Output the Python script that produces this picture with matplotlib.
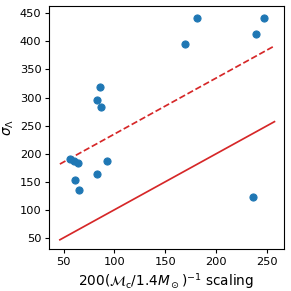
import numpy as np
import matplotlib
matplotlib.use("Agg")
import matplotlib.pyplot as plt

# values
x_scaling = [181.2, 246.5, 238.9, 169.2, 86.0, 82.4, 86.3, 55.9, 60.1, 63.8,
             92.8, 82.7, 61.4, 65.3, 235.7]
sigma_lambda = [442.2, 442.0, 413.6, 394.7, 318.6, 295.5, 283.0, 190.8, 186.7,
                182.6, 186.2, 163.5, 152.9, 134.5, 122.5]

line_x = [46.4, 257.0]
offset = 135.0

fig, ax = plt.subplots(figsize=(4, 4), dpi=72.75)

lx = np.array(line_x)
ax.plot(lx, lx, color="tab:red", lw=1.7)
ax.plot(lx, lx + offset, color="tab:red", lw=1.7, ls="--")
ax.scatter(x_scaling, sigma_lambda, s=50, color="tab:blue", zorder=3)

ax.set_xlim(35.9, 266.1)
ax.set_ylim(29.3, 463)
ax.set_xticks([50, 100, 150, 200, 250])
ax.set_yticks([50, 100, 150, 200, 250, 300, 350, 400, 450])
ax.set_xlabel(r"$200(\mathcal{M}_{\rm c}/1.4M_\odot)^{-1}$ scaling", fontsize=13.5)
ax.set_ylabel(r"$\sigma_\Lambda$", fontsize=13.5)
ax.tick_params(labelsize=11.3, width=1.1, length=4)
for s in ax.spines.values():
    s.set_linewidth(1.1)

fig.subplots_adjust(left=0.169, right=0.975, top=0.979, bottom=0.143)
fig.savefig("out.png", dpi=72.75)
